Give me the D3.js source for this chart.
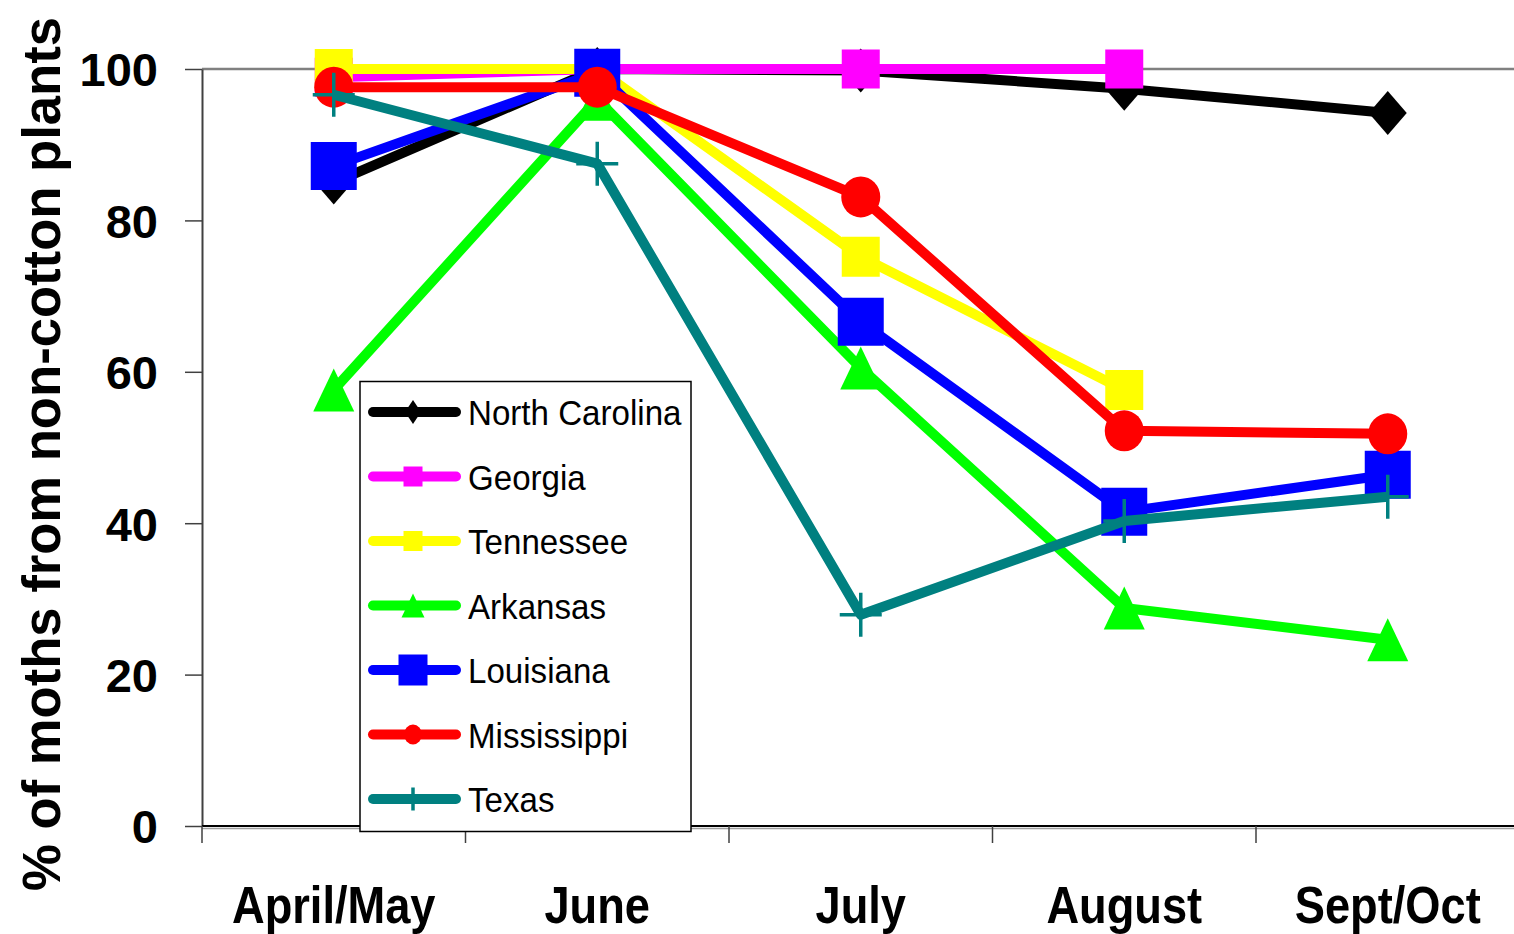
<!DOCTYPE html>
<html>
<head>
<meta charset="utf-8">
<script src="https://cdn.jsdelivr.net/npm/d3@7"></script>
<style>
  html, body { margin: 0; padding: 0; background: #fff; }
  svg { display: block; font-family: "Liberation Sans", Arial, sans-serif; }
</style>
</head>
<body>
<svg id="chart" width="1514" height="934"></svg>
<script>
// Months of sampling
const categories = ["April/May", "June", "July", "August", "Sept/Oct"];

// % of moths from non-cotton host plants, by state (null = not sampled)
const northCarolina = [85.0, 100, 99.8, 97.4, 94.2];
const georgia       = [98.9, 100, 100, 100, null];
const tennessee     = [100, 100, 75.2, 57.6, null];
const arkansas      = [57.6, 96.0, 60.5, 28.8, 24.6];
const louisiana     = [87.2, 99.5, 66.6, 41.5, 46.4];
const mississippi   = [97.6, 97.6, 83.1, 52.2, 51.8];
const texas         = [96.6, 87.5, 27.9, 40.3, 43.5];

const yTicks = [0, 20, 40, 60, 80, 100];
const yTitle = "% of moths from non-cotton plants";

// Series drawing style (order = drawing order = legend order)
const series = [
  { name: "North Carolina", values: northCarolina, color: "#000000", marker: "diamond", w: 38, h: 44, lw: 16, lh: 24 },
  { name: "Georgia",        values: georgia,       color: "#FF00FF", marker: "square",  w: 38, h: 39, lw: 19, lh: 20 },
  { name: "Tennessee",      values: tennessee,     color: "#FFFF00", marker: "square",  w: 38, h: 40, lw: 19, lh: 20 },
  { name: "Arkansas",       values: arkansas,      color: "#00FF00", marker: "triangle",w: 41, h: 43, lw: 23, lh: 24 },
  { name: "Louisiana",      values: louisiana,     color: "#0000FF", marker: "square",  w: 46, h: 48, lw: 29, lh: 31 },
  { name: "Mississippi",    values: mississippi,   color: "#FF0000", marker: "circle",  w: 39, h: 41, lw: 18, lh: 20 },
  { name: "Texas",          values: texas,         color: "#008080", marker: "cross",   w: 42, h: 44, lw: 0,  lh: 23 }
];

const svg = d3.select("#chart");

const x = d3.scaleBand().domain(categories).range([202, 1519.5]).paddingInner(0).paddingOuter(0);
const y = d3.scaleLinear().domain([0, 100]).range([826, 69]);
const cx = c => x(c) + x.bandwidth() / 2;

// marker path generator: centred on origin, width w, height h
function markerPath(type, w, h) {
  const a = w / 2, b = h / 2;
  switch (type) {
    case "diamond":  return `M0,${-b}L${a},0L0,${b}L${-a},0Z`;
    case "square":   return `M${-a},${-b}H${a}V${b}H${-a}Z`;
    case "triangle": return `M0,${-b}L${a},${b}L${-a},${b}Z`;
    case "cross":    return `M${-a},0H${a}M0,${-b}V${b}`;
    default: return "";
  }
}

function drawMarker(g, s, w, h) {
  if (s.marker === "circle") {
    g.append("ellipse").attr("rx", w / 2).attr("ry", h / 2).attr("fill", s.color);
  } else if (s.marker === "cross") {
    g.append("path").attr("d", markerPath("cross", w, h))
      .attr("stroke", s.color).attr("stroke-width", 3.5).attr("fill", "none");
  } else {
    g.append("path").attr("d", markerPath(s.marker, w, h)).attr("fill", s.color);
  }
}

// top gridline at 100
svg.append("line")
  .attr("x1", 202).attr("x2", 1519)
  .attr("y1", y(100)).attr("y2", y(100))
  .attr("stroke", "#808080").attr("stroke-width", 2.5);

// y axis
const yAxis = svg.append("g")
  .attr("transform", "translate(202,0)")
  .call(d3.axisLeft(y).tickValues(yTicks).tickSize(17).tickSizeOuter(0).tickPadding(27));
yAxis.select(".domain").attr("stroke", "#404040").attr("stroke-width", 2);
yAxis.selectAll(".tick line").attr("stroke", "#404040").attr("stroke-width", 1.5);
yAxis.selectAll(".tick text")
  .attr("font-family", "'Liberation Sans', Arial, sans-serif")
  .attr("font-size", 47).attr("font-weight", "bold").attr("fill", "#000")
  .attr("dy", "0.36em");

// x axis line with category boundary ticks
svg.append("line")
  .attr("x1", 202).attr("x2", 1519).attr("y1", 828.5).attr("y2", 828.5)
  .attr("stroke", "#a0a0a0").attr("stroke-width", 1.5);
svg.append("line")
  .attr("x1", 202).attr("x2", 1519).attr("y1", y(0)).attr("y2", y(0))
  .attr("stroke", "#000").attr("stroke-width", 2);
svg.append("g").selectAll("line").data(categories).join("line")
  .attr("x1", d => x(d)).attr("x2", d => x(d))
  .attr("y1", y(0)).attr("y2", y(0) + 17)
  .attr("stroke", "#404040").attr("stroke-width", 1.5);

const xAxis = svg.append("g")
  .attr("transform", `translate(0,${y(0)})`)
  .call(d3.axisBottom(x).tickSize(0).tickPadding(0));
xAxis.select(".domain").remove();
xAxis.selectAll(".tick text")
  .attr("font-family", "'Liberation Sans', Arial, sans-serif")
  .attr("font-size", 52).attr("font-weight", "bold").attr("fill", "#000")
  .attr("y", 97).attr("dy", 0)
  .attr("transform", "scale(0.87,1)");

// y title
svg.append("text")
  .attr("transform", `translate(60,${454}) rotate(-90)`)
  .attr("text-anchor", "middle")
  .attr("font-size", 53).attr("font-weight", "bold")
  .attr("textLength", 874).attr("lengthAdjust", "spacingAndGlyphs")
  .text(yTitle);

// series lines and markers
const line = d3.line()
  .defined(d => d.v != null)
  .x(d => cx(d.c))
  .y(d => y(d.v));

series.forEach(s => {
  const pts = categories.map((c, i) => ({ c, v: s.values[i] }));
  const g = svg.append("g");
  g.append("path")
    .datum(pts)
    .attr("d", line)
    .attr("fill", "none")
    .attr("stroke", s.color)
    .attr("stroke-width", 10)
    .attr("stroke-linejoin", "round");
  g.selectAll("g.mk").data(pts.filter(p => p.v != null)).join("g")
    .attr("class", "mk")
    .attr("transform", p => `translate(${cx(p.c)},${y(p.v)})`)
    .each(function () { drawMarker(d3.select(this), s, s.w, s.h); });
});

// legend
const legend = svg.append("g");
legend.append("rect")
  .attr("x", 360).attr("y", 381.5).attr("width", 331).attr("height", 450)
  .attr("fill", "#fff").attr("stroke", "#000").attr("stroke-width", 1.5);

const rowY = i => 412 + i * 64.5;
series.forEach((s, i) => {
  const row = legend.append("g").attr("transform", `translate(0,${rowY(i)})`);
  row.append("line")
    .attr("x1", 373).attr("x2", 456).attr("y1", 0).attr("y2", 0)
    .attr("stroke", s.color).attr("stroke-width", 10).attr("stroke-linecap", "round");
  const mg = row.append("g").attr("transform", "translate(413,0)");
  drawMarker(mg, s, s.lw, s.lh);
  row.append("text")
    .attr("transform", "translate(468,13) scale(0.92,1)")
    .attr("font-size", 36).attr("fill", "#000")
    .text(s.name);
});
</script>
</body>
</html>
